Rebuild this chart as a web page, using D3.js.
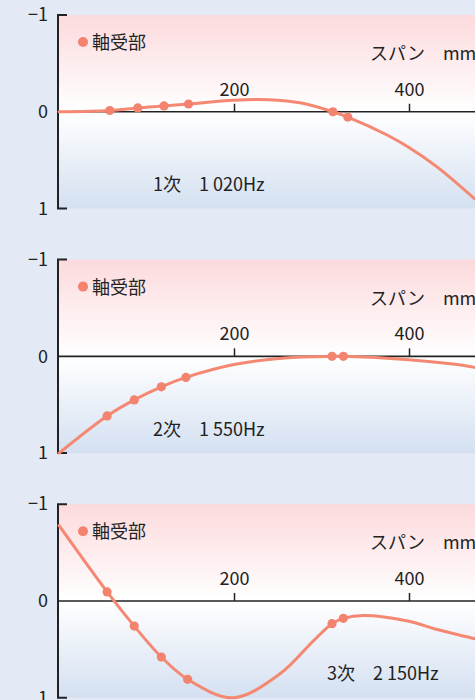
<!DOCTYPE html>
<html>
<head>
<meta charset="utf-8">
<script src="https://cdn.jsdelivr.net/npm/d3@7"></script>
<style>
  html, body { margin: 0; padding: 0; background: #e3eaf5; }
  svg { display: block; }
  text { font-family: "Noto Sans CJK JP", "Noto Sans", sans-serif; fill: #222; }
</style>
</head>
<body>
<svg id="chart" width="475" height="700"></svg>
<script>
// ---- data ----
const spanTicks = [200, 400];
const dispTicks = [-1, 0, 1];
const axisTitle = "スパン　mm";
const legendLabel = "軸受部";
const modeLabels = ["1次", "2次", "3次"];
const modeFreqs = ["1 020Hz", "1 550Hz", "2 150Hz"];

// bearing marker positions (span mm) and displacement per mode
const bearingSpan1 = [58, 90, 120, 148, 313, 330];
const bearingDisp1 = [-0.013, -0.04, -0.06, -0.08, 0, 0.055];
const bearingSpan2 = [55, 86, 117, 145, 312, 325];
const bearingDisp2 = [0.616, 0.45, 0.315, 0.218, 0, 0];
const bearingSpan3 = [55, 86, 117, 147, 312, 325];
const bearingDisp3 = [-0.093, 0.26, 0.58, 0.81, 0.235, 0.18];

// additional points along each mode shape curve
const curveSpan1 = [0, 200, 240, 277, 375, 400, 432, 475];
const curveDisp1 = [0, -0.12, -0.125, -0.09, 0.24, 0.37, 0.57, 0.9];
const curveSpan2 = [0, 200, 258, 400, 450, 475];
const curveDisp2 = [1, 0.085, 0.017, 0.035, 0.08, 0.114];
const curveSpan3 = [0, 199, 253, 291, 348, 400, 430, 475];
const curveDisp3 = [-0.78, 1.0, 0.75, 0.41, 0.15, 0.21, 0.29, 0.39];

// ---- layout ----
const W = 475, H = 700;
const plotLeft = 59;
const panelTop0 = 15, panelStep = 244.6, panelH = 193.5;
const curveColor = "#f48872";
const markerColor = "#f3826e";

const svg = d3.select("#chart");

const defs = svg.append("defs");
const grad = defs.append("linearGradient")
  .attr("id", "bg").attr("x1", 0).attr("y1", 0).attr("x2", 0).attr("y2", 1);
grad.append("stop").attr("offset", "0%").attr("stop-color", "#fcdadd");
grad.append("stop").attr("offset", "50%").attr("stop-color", "#ffffff");
grad.append("stop").attr("offset", "100%").attr("stop-color", "#d4e0f1");

const x = d3.scaleLinear().domain([0, 475]).range([plotLeft, plotLeft + 475 * 0.875]);

const panels = [
  { bs: bearingSpan1, bd: bearingDisp1, cs: curveSpan1, cd: curveDisp1, labelX: 153 },
  { bs: bearingSpan2, bd: bearingDisp2, cs: curveSpan2, cd: curveDisp2, labelX: 153 },
  { bs: bearingSpan3, bd: bearingDisp3, cs: curveSpan3, cd: curveDisp3, labelX: 327 }
];

panels.forEach((p, i) => {
  const top = panelTop0 + i * panelStep;
  const y = d3.scaleLinear().domain([-1, 1]).range([top, top + panelH]);
  const g = svg.append("g");

  // background
  g.append("rect")
    .attr("x", plotLeft).attr("y", y(-1))
    .attr("width", W - plotLeft).attr("height", y(1) - y(-1))
    .attr("fill", "url(#bg)");

  // left bracket frame
  g.append("path")
    .attr("d", `M${plotLeft + 8},${y(-1)} H${plotLeft - 1} V${y(1)} H${plotLeft + 8}`)
    .attr("fill", "none").attr("stroke", "#222").attr("stroke-width", 2);

  // y tick labels
  const yAxis = g.append("g").attr("transform", `translate(${plotLeft - 1},0)`)
    .call(d3.axisLeft(y).tickValues(dispTicks).tickSize(0).tickPadding(10)
      .tickFormat(d3.format("d")));
  yAxis.select(".domain").remove();
  yAxis.selectAll("text").style("font-size", "18px").style("font-family", null).attr("fill", "#222");

  // x axis along zero
  const xAxis = g.append("g").attr("transform", `translate(0,${y(0)})`)
    .call(d3.axisTop(x).tickValues(spanTicks).tickSize(8).tickPadding(8));
  xAxis.select(".domain").remove();
  xAxis.selectAll("line").attr("stroke", "#222").attr("stroke-width", 1.5);
  xAxis.selectAll("text").style("font-size", "18px").style("font-family", null).attr("fill", "#222");
  g.append("line")
    .attr("x1", plotLeft).attr("x2", W)
    .attr("y1", y(0)).attr("y2", y(0))
    .attr("stroke", "#222").attr("stroke-width", 1.6);

  // axis title
  g.append("text").attr("x", 370).attr("y", top + 45)
    .style("font-size", "18px").text(axisTitle);

  // legend
  g.append("circle").attr("cx", 83).attr("cy", top + 27).attr("r", 5).attr("fill", markerColor);
  g.append("text").attr("x", 92).attr("y", top + 34)
    .style("font-size", "18px").text(legendLabel);

  // mode label
  g.append("text").attr("x", p.labelX).attr("y", top + 176)
    .style("font-size", "18px").text(modeLabels[i] + "　" + modeFreqs[i]);

  // curve
  const pts = p.cs.map((s, k) => [s, p.cd[k]])
    .concat(p.bs.map((s, k) => [s, p.bd[k]]))
    .sort((a, b) => a[0] - b[0]);
  const line = d3.line().x(d => x(d[0])).y(d => y(d[1])).curve(d3.curveCatmullRom.alpha(0.5));
  g.append("path").attr("d", line(pts))
    .attr("fill", "none").attr("stroke", curveColor).attr("stroke-width", 3)
    .attr("stroke-linecap", "round");

  // bearing markers
  g.selectAll("circle.m").data(p.bs.map((s, k) => [s, p.bd[k]])).join("circle")
    .attr("class", "m")
    .attr("cx", d => x(d[0])).attr("cy", d => y(d[1])).attr("r", 4.6)
    .attr("fill", markerColor);
});
</script>
</body>
</html>
